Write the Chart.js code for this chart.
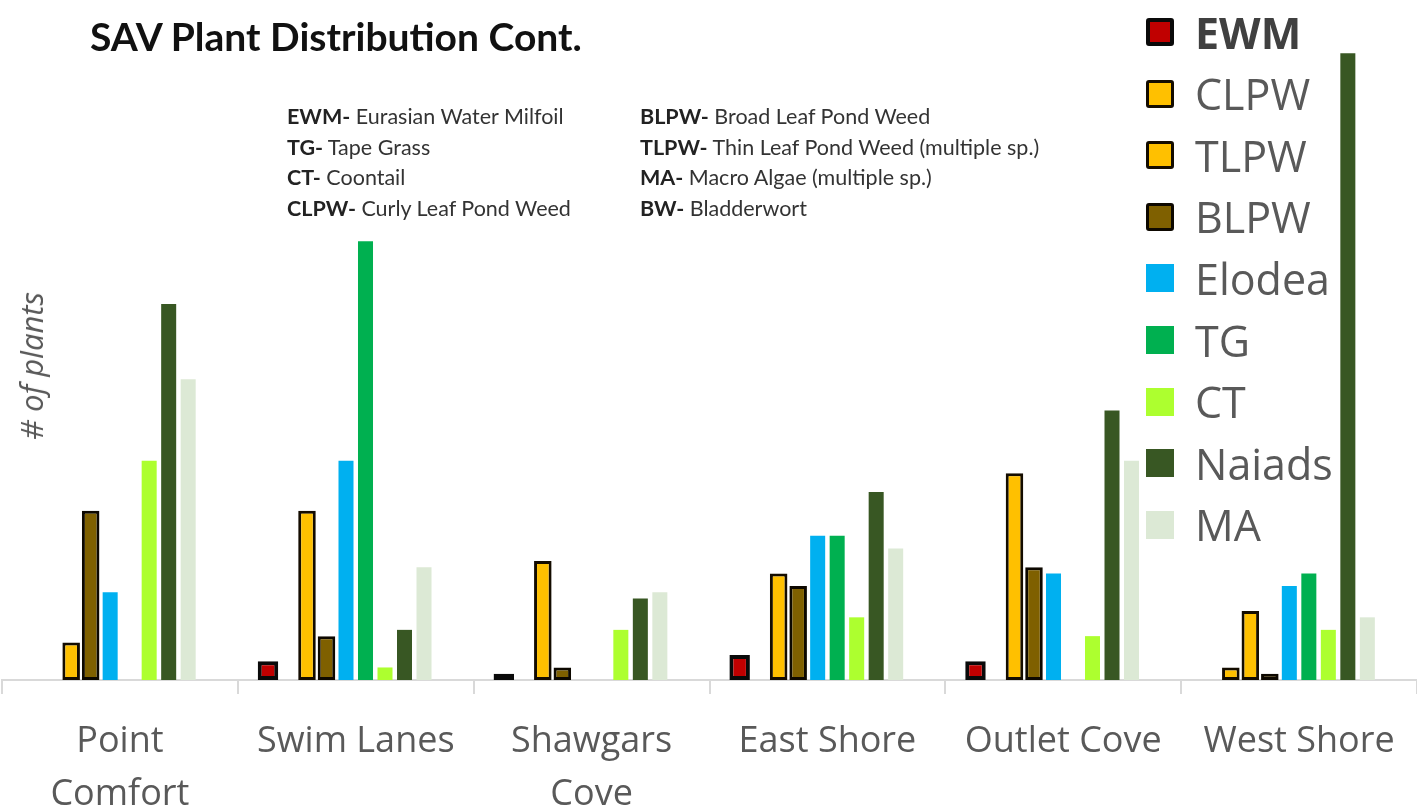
<!DOCTYPE html>
<html>
<head>
<meta charset="utf-8">
<title>SAV Plant Distribution Cont.</title>
<script src="https://cdn.jsdelivr.net/npm/chart.js@4.4.1/dist/chart.umd.min.js"></script>
<style>
  body { margin: 0; background: #fff; overflow: hidden; }
  .wrap { position: relative; width: 1417px; height: 812px; }
  #myChart { position: absolute; left: 0; top: 0; }
  .title {
    position: absolute; left: 90px; top: 13px;
    font: bold 39px Lato, sans-serif; color: #111; white-space: nowrap;
  }
  .notes {
    position: absolute; top: 101px;
    font: 21.5px Lato, sans-serif; line-height: 30.5px; color: #333; white-space: nowrap;
  }
  .notes b { color: #222; }
  .ytitle {
    position: absolute; left: 31px; top: 366px;
    transform: translate(-50%, -50%) rotate(-90deg);
    font: italic 31px "Open Sans", sans-serif; color: #595959; white-space: nowrap;
  }
  .legend { position: absolute; left: 1146px; top: 0; }
  .legend .item {
    position: absolute; left: 0; height: 60px; display: flex; align-items: center;
    font: 43px "Open Sans", sans-serif; color: #595959; white-space: nowrap; line-height: 1;
  }
  .legend .swatch { width: 28px; height: 28px; box-sizing: border-box; margin-right: 21px; }
</style>
</head>
<body>
<div class="wrap">
  <canvas id="myChart" width="1417" height="812"></canvas>
  <div class="title">SAV Plant Distribution Cont.</div>
  <div class="notes" style="left:287px">
    <div><b>EWM-</b> Eurasian Water Milfoil</div>
    <div><b>TG-</b> Tape Grass</div>
    <div><b>CT-</b> Coontail</div>
    <div><b>CLPW-</b> Curly Leaf Pond Weed</div>
  </div>
  <div class="notes" style="left:640px">
    <div><b>BLPW-</b> Broad Leaf Pond Weed</div>
    <div><b>TLPW-</b> Thin Leaf Pond Weed (multiple sp.)</div>
    <div><b>MA-</b> Macro Algae (multiple sp.)</div>
    <div><b>BW-</b> Bladderwort</div>
  </div>
  <div class="ytitle"># of plants</div>
  <div class="legend" id="legend"></div>
</div>
<script>
// sites along the shoreline
const sites = [["Point", "Comfort"], "Swim Lanes", ["Shawgars", "Cove"], "East Shore", "Outlet Cove", "West Shore"];

// plant counts per site
const ewm    = [0, 3, 1, 4, 3, 0];
const clpw   = [0, 0, 0, 0, 0, 2];
const tlpw   = [6, 27, 19, 17, 33, 11];
const blpw   = [27, 7, 2, 15, 18, 1];
const elodea = [14, 35, 0, 23, 17, 15];
const tg     = [0, 70, 0, 23, 0, 17];
const ct     = [35, 2, 8, 10, 7, 8];
const naiads = [60, 8, 13, 30, 43, 100];
const ma     = [48, 18, 14, 21, 35, 10];
const bw     = [0, 0, 0, 0, 0, 0];

const series = [
  { label: "EWM", data: ewm, fill: "#C00000", border: "#0a0a0a", bw: 4, pct: 1.05, bold: true },
  { label: "CLPW", data: clpw, fill: "#FFC000", border: "#140c00", bw: 3, pct: 0.9 },
  { label: "TLPW", data: tlpw, fill: "#FFC000", border: "#140c00", bw: 3, pct: 0.9 },
  { label: "BLPW", data: blpw, fill: "#7F6000", border: "#0d0800", bw: 3, pct: 0.9 },
  { label: "Elodea", data: elodea, fill: "#00B0F0", border: "#00B0F0", bw: 0, pct: 0.77 },
  { label: "TG", data: tg, fill: "#00B050", border: "#00B050", bw: 0, pct: 0.77 },
  { label: "CT", data: ct, fill: "#ADFF2F", border: "#ADFF2F", bw: 0, pct: 0.77 },
  { label: "Naiads", data: naiads, fill: "#385723", border: "#385723", bw: 0, pct: 0.77 },
  { label: "MA", data: ma, fill: "#DCE9D5", border: "#DCE9D5", bw: 0, pct: 0.77 },
  { label: "BW", data: bw, fill: "#7030A0", border: "#7030A0", bw: 0, pct: 0.77, noLegend: true },
];

const data = {
  labels: sites,
  datasets: series.map((s) => ({
    label: s.label,
    data: s.data,
    backgroundColor: s.fill,
    borderColor: s.border,
    borderWidth: s.bw,
    borderSkipped: false,
    barPercentage: s.pct,
  })),
};

const config = {
  type: "bar",
  data,
  options: {
    responsive: false,
    animation: false,
    categoryPercentage: 0.827,
    layout: { padding: { left: 2, right: 0, top: 22, bottom: 0 } },
    plugins: {
      legend: { display: false },
      tooltip: { enabled: false },
    },
    scales: {
      x: {
        grid: {
          drawOnChartArea: false,
          drawTicks: true,
          tickLength: 14,
          color: "#d9d9d9",
          lineWidth: 2,
        },
        border: { display: true, color: "#d9d9d9", width: 2 },
        ticks: {
          color: "#595959",
          font: { family: "Open Sans", size: 36, lineHeight: 1.47 },
          maxRotation: 0,
          autoSkip: false,
          padding: 21,
        },
        afterFit: (scale) => { scale.height = 132; },
      },
      y: {
        display: false,
        min: 0,
        max: 105,
      },
    },
  },
};

const myChart = new Chart(document.getElementById("myChart"), config);

// legend on the right, drawn as html
const legendEl = document.getElementById("legend");
series.filter((s) => !s.noLegend).forEach((s, i) => {
  const row = document.createElement("div");
  row.className = "item";
  row.style.top = (32 + i * 61.6 - 30) + "px";
  const sw = document.createElement("span");
  sw.className = "swatch";
  sw.style.background = s.fill;
  if (s.bw) {
    sw.style.border = s.bw + "px solid " + s.border;
    sw.style.borderRadius = "3px";
  }
  const txt = document.createElement("span");
  txt.textContent = s.label;
  if (s.bold) { txt.style.fontWeight = "bold"; txt.style.color = "#404040"; }
  row.appendChild(sw);
  row.appendChild(txt);
  legendEl.appendChild(row);
});
</script>
</body>
</html>
